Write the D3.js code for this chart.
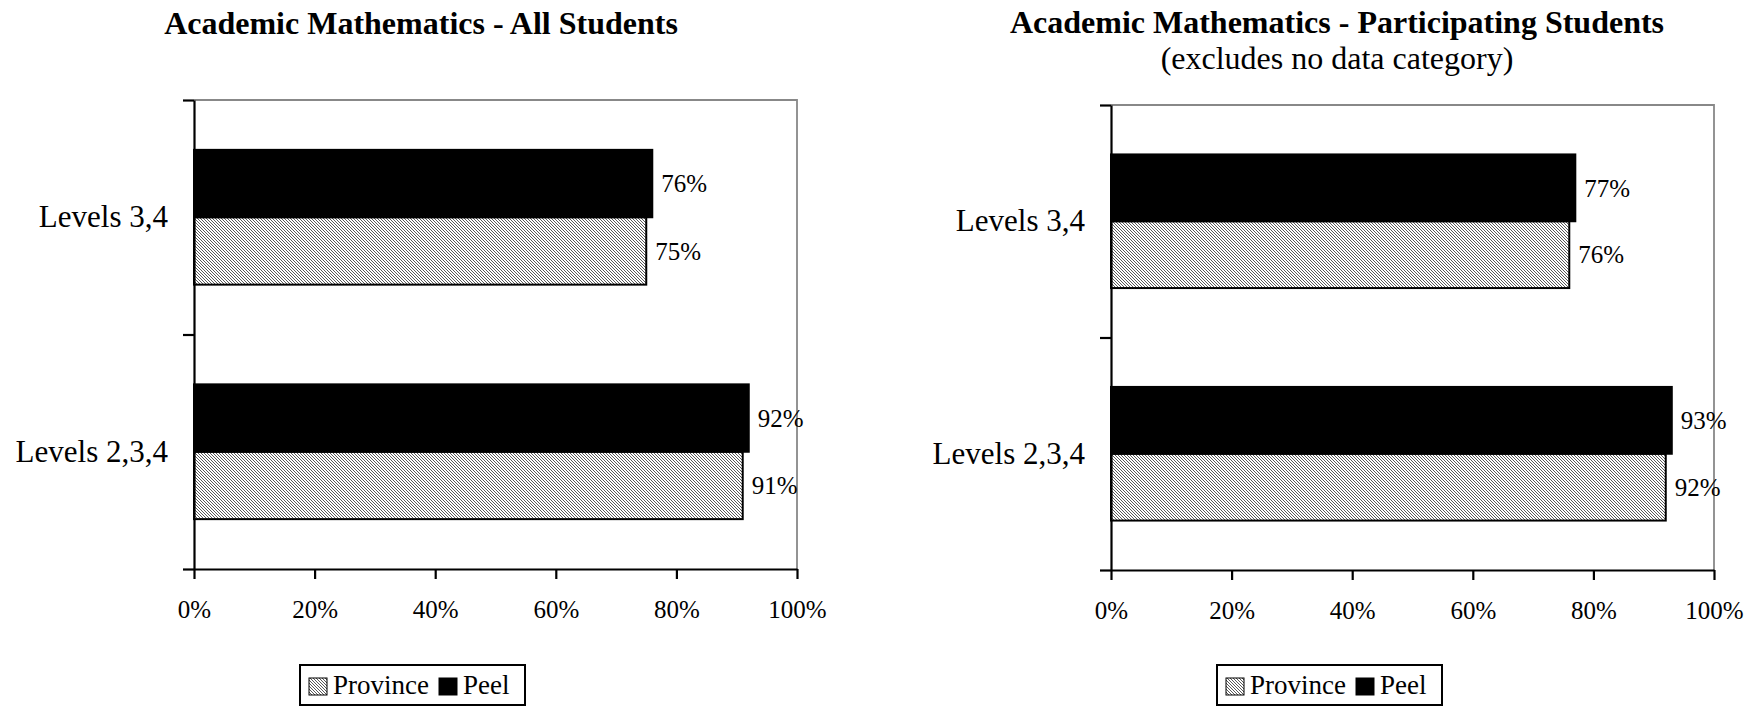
<html>
<head>
<script src="https://d3js.org/d3.v7.min.js"></script>
<style>
  body { margin: 0; background: #fff; }
</style>
</head>
<body>
<script>
// data
var categories = ["Levels 3,4", "Levels 2,3,4"];
var seriesNames = ["Peel", "Province"];
var allPeel = [0.76, 0.92];
var allProvince = [0.75, 0.91];
var partPeel = [0.77, 0.93];
var partProvince = [0.76, 0.92];
var xTicks = [0, 0.2, 0.4, 0.6, 0.8, 1];

var width = 1745, height = 707;
var serif = "'Liberation Serif', 'Times New Roman', serif";

var svg = d3.select("body").append("svg")
    .attr("width", width)
    .attr("height", height)
    .style("font-family", serif);

// fine hatch used for the Province bars
var pat = svg.append("defs").append("pattern")
    .attr("id", "hatch")
    .attr("patternUnits", "userSpaceOnUse")
    .attr("width", 3).attr("height", 3);
pat.append("rect").attr("width", 3).attr("height", 3).attr("fill", "#fff");
pat.append("path")
    .attr("d", "M-1,-1L4,4M-1,2L1,4M2,-1L4,1")
    .attr("stroke", "#222").attr("stroke-width", 0.75);

var charts = [
    {title: "Academic Mathematics - All Students", sub: null, tx: 421, ty: 34,
     peel: allPeel, prov: allProvince, x0: 194, x1: 797, y0: 100, y1: 569, lx: 300},
    {title: "Academic Mathematics - Participating Students", sub: "(excludes no data category)",
     tx: 1337, ty: 33, peel: partPeel, prov: partProvince, x0: 1111, x1: 1714, y0: 105, y1: 570, lx: 1217}
];

function txt(sel) {
    return sel.style("font-family", serif).attr("fill", "#000");
}

charts.forEach(function(c) {
    var g = svg.append("g");

    txt(g.append("text"))
        .attr("x", c.tx).attr("y", c.ty)
        .attr("text-anchor", "middle")
        .attr("font-size", 32).attr("font-weight", "bold")
        .text(c.title);
    if (c.sub) {
        txt(g.append("text"))
            .attr("x", c.tx).attr("y", c.ty + 36)
            .attr("text-anchor", "middle")
            .attr("font-size", 32)
            .text(c.sub);
    }

    var x = d3.scaleLinear().domain([0, 1]).range([c.x0, c.x1]);
    var y = d3.scaleBand().domain(categories).range([c.y0, c.y1]);
    var ySub = d3.scaleBand().domain(seriesNames).range([0, y.bandwidth()])
        .paddingInner(0).paddingOuter(0.74);

    // gray frame on top and right
    g.append("path")
        .attr("d", "M" + c.x0 + "," + c.y0 + "H" + c.x1 + "V" + c.y1)
        .attr("fill", "none").attr("stroke", "#888").attr("stroke-width", 1.8);

    var rows = categories.map(function(cat, i) {
        return [{cat: cat, s: "Province", v: c.prov[i]}, {cat: cat, s: "Peel", v: c.peel[i]}];
    });
    var bars = [].concat.apply([], rows);

    g.selectAll("rect.bar").data(bars).enter().append("rect")
        .attr("class", "bar")
        .attr("x", x(0))
        .attr("y", function(d) { return y(d.cat) + ySub(d.s); })
        .attr("width", function(d) { return x(d.v) - x(0); })
        .attr("height", ySub.bandwidth())
        .attr("fill", function(d) { return d.s == "Peel" ? "#000" : "url(#hatch)"; })
        .attr("stroke", "#000").attr("stroke-width", 2);

    txt(g.selectAll("text.val").data(bars).enter().append("text"))
        .attr("class", "val")
        .attr("x", function(d) { return x(d.v) + 9; })
        .attr("y", function(d) { return y(d.cat) + ySub(d.s) + ySub.bandwidth() / 2; })
        .attr("dy", "0.35em")
        .attr("font-size", 25)
        .text(function(d) { return d3.format(".0%")(d.v); });

    // y axis: ticks on the band edges, labels at the band centres
    var yEdge = d3.scaleLinear().domain([0, categories.length]).range([c.y0, c.y1]);
    g.append("g")
        .attr("transform", "translate(" + c.x0 + ",0)")
        .call(d3.axisLeft(yEdge).tickValues([0, 1, 2]).tickFormat("").tickSize(11).tickSizeOuter(0))
        .call(function(a) { a.selectAll("path,line").attr("stroke", "#000").attr("stroke-width", 2.2); });

    txt(g.selectAll("text.cat").data(categories).enter().append("text"))
        .attr("class", "cat")
        .attr("x", c.x0 - 26)
        .attr("y", function(d) { return y(d) + y.bandwidth() / 2; })
        .attr("dy", "0.32em")
        .attr("text-anchor", "end")
        .attr("font-size", 31)
        .text(function(d) { return d; });

    g.append("g")
        .attr("transform", "translate(0," + c.y1 + ")")
        .call(d3.axisBottom(x).tickValues(xTicks).tickFormat(d3.format(".0%")).tickSize(10).tickSizeOuter(0).tickPadding(21))
        .call(function(a) {
            a.attr("font-family", serif).attr("font-size", 25);
            a.selectAll("path,line").attr("stroke", "#000").attr("stroke-width", 2.2);
            txt(a.selectAll("text")).attr("font-size", 25);
        });

    // legend
    var lg = g.append("g").attr("transform", "translate(" + c.lx + ",665)");
    lg.append("rect").attr("width", 225).attr("height", 40)
        .attr("fill", "#fff").attr("stroke", "#000").attr("stroke-width", 2);
    var items = [{s: "Province", x: 9, fill: "url(#hatch)"}, {s: "Peel", x: 139, fill: "#000"}];
    items.forEach(function(it) {
        lg.append("rect").attr("x", it.x).attr("y", 13).attr("width", 18).attr("height", 17)
            .attr("fill", it.fill).attr("stroke", "#000").attr("stroke-width", 1);
        txt(lg.append("text")).attr("x", it.x + 24).attr("y", 29)
            .attr("font-size", 27).text(it.s);
    });
});
</script>
</body>
</html>
